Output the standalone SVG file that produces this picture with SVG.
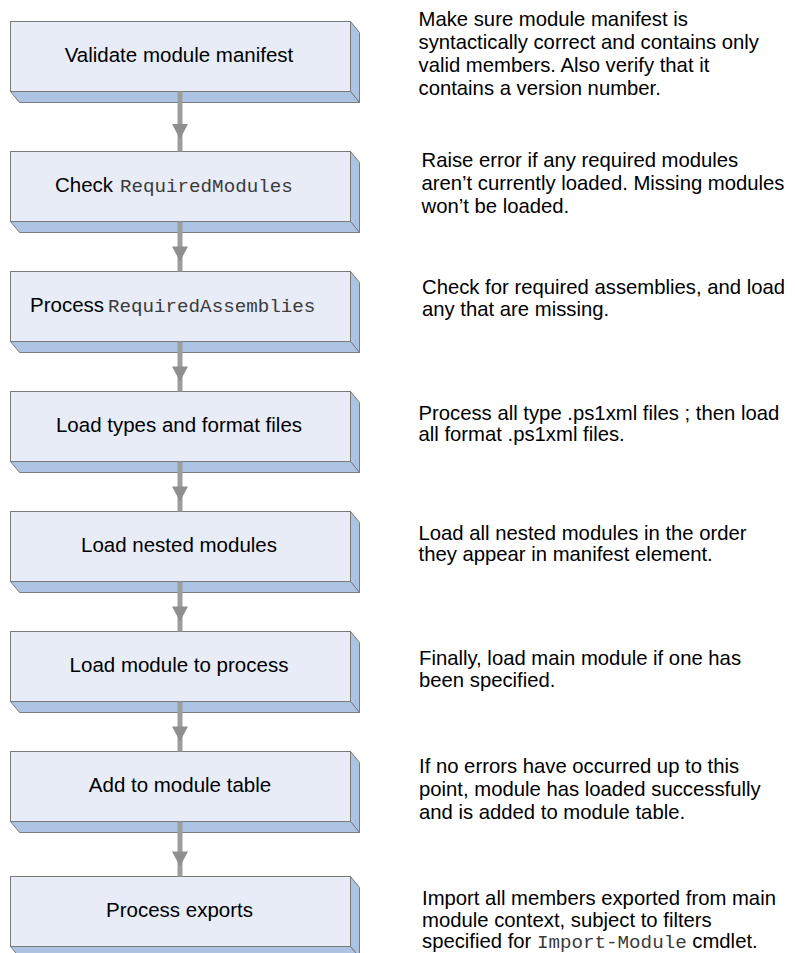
<svg xmlns="http://www.w3.org/2000/svg" width="795" height="953" viewBox="0 0 795 953">
<defs>
<style>
.front{fill:#e7ecf7;stroke:#7a7a7a;stroke-width:1}
.side{fill:#adc3e4;stroke:#7a7a7a;stroke-width:1;stroke-linejoin:round}
.lbl{font-family:"Liberation Sans",Arial,sans-serif;font-size:20.5px;fill:#000}
.desc{font-family:"Liberation Sans",Arial,sans-serif;font-size:20.3px;fill:#000}
.mono{font-family:"Liberation Mono","Courier New",monospace;font-size:19.2px;fill:#3a3a3a}
.line{stroke:#9d9d9d;stroke-width:5;fill:none}
.head{fill:#8f8f8f}
</style>
</defs>
<rect width="795" height="953" fill="#fff"/>

<g id="node1">
<polygon class="side" points="350.5,21.5 359.5,32.5 359.5,102.5 350.5,91.5"/>
<polygon class="side" points="10.5,91.5 350.5,91.5 359.5,102.5 19.5,102.5"/>
<rect class="front" x="10.5" y="21.5" width="340" height="70"/>
<text class="lbl" x="179" y="62" text-anchor="middle">Validate module manifest</text>
</g>
<g id="node2">
<polygon class="side" points="350.5,151.5 359.5,162.5 359.5,232.5 350.5,221.5"/>
<polygon class="side" points="10.5,221.5 350.5,221.5 359.5,232.5 19.5,232.5"/>
<rect class="front" x="10.5" y="151.5" width="340" height="70"/>
<text class="lbl" x="55" y="192">Check <tspan class="mono" x="120">RequiredModules</tspan></text>
</g>
<g id="node3">
<polygon class="side" points="350.5,271.5 359.5,282.5 359.5,352.5 350.5,341.5"/>
<polygon class="side" points="10.5,341.5 350.5,341.5 359.5,352.5 19.5,352.5"/>
<rect class="front" x="10.5" y="271.5" width="340" height="70"/>
<text class="lbl" x="30" y="312">Process <tspan class="mono" x="108">RequiredAssemblies</tspan></text>
</g>
<g id="node4">
<polygon class="side" points="350.5,391.5 359.5,402.5 359.5,472.5 350.5,461.5"/>
<polygon class="side" points="10.5,461.5 350.5,461.5 359.5,472.5 19.5,472.5"/>
<rect class="front" x="10.5" y="391.5" width="340" height="70"/>
<text class="lbl" x="179" y="432" text-anchor="middle">Load types and format files</text>
</g>
<g id="node5">
<polygon class="side" points="350.5,511.5 359.5,522.5 359.5,592.5 350.5,581.5"/>
<polygon class="side" points="10.5,581.5 350.5,581.5 359.5,592.5 19.5,592.5"/>
<rect class="front" x="10.5" y="511.5" width="340" height="70"/>
<text class="lbl" x="179" y="552" text-anchor="middle">Load nested modules</text>
</g>
<g id="node6">
<polygon class="side" points="350.5,631.5 359.5,642.5 359.5,712.5 350.5,701.5"/>
<polygon class="side" points="10.5,701.5 350.5,701.5 359.5,712.5 19.5,712.5"/>
<rect class="front" x="10.5" y="631.5" width="340" height="70"/>
<text class="lbl" x="179" y="672" text-anchor="middle">Load module to process</text>
</g>
<g id="node7">
<polygon class="side" points="350.5,751.5 359.5,762.5 359.5,832.5 350.5,821.5"/>
<polygon class="side" points="10.5,821.5 350.5,821.5 359.5,832.5 19.5,832.5"/>
<rect class="front" x="10.5" y="751.5" width="340" height="70"/>
<text class="lbl" x="180" y="792" text-anchor="middle">Add to module table</text>
</g>
<g id="node8">
<polygon class="side" points="350.5,876.5 359.5,887.5 359.5,957.5 350.5,946.5"/>
<polygon class="side" points="10.5,946.5 350.5,946.5 359.5,957.5 19.5,957.5"/>
<rect class="front" x="10.5" y="876.5" width="340" height="70"/>
<text class="lbl" x="179.5" y="917" text-anchor="middle">Process exports</text>
</g>

<g id="connectors">
<line class="line" x1="180" y1="91.5" x2="180" y2="151.5"/>
<polygon class="head" points="172,124 188,124 180,139"/>
<line class="line" x1="180" y1="221.5" x2="180" y2="271.5"/>
<polygon class="head" points="172,246.5 188,246.5 180,261.5"/>
<line class="line" x1="180" y1="341.5" x2="180" y2="391.5"/>
<polygon class="head" points="172,366.5 188,366.5 180,381.5"/>
<line class="line" x1="180" y1="461.5" x2="180" y2="511.5"/>
<polygon class="head" points="172,486.5 188,486.5 180,501.5"/>
<line class="line" x1="180" y1="581.5" x2="180" y2="631.5"/>
<polygon class="head" points="172,606.5 188,606.5 180,621.5"/>
<line class="line" x1="180" y1="701.5" x2="180" y2="751.5"/>
<polygon class="head" points="172,726.5 188,726.5 180,741.5"/>
<line class="line" x1="180" y1="821.5" x2="180" y2="876.5"/>
<polygon class="head" points="172,851.5 188,851.5 180,866.5"/>
</g>

<g id="desc1" class="desc">
<text x="418.5" y="26">Make sure module manifest is</text>
<text x="418.5" y="49">syntactically correct and contains only</text>
<text x="418.5" y="72">valid members. Also verify that it</text>
<text x="418.5" y="95">contains a version number.</text>
</g>
<g id="desc2" class="desc">
<text x="421.5" y="167">Raise error if any required modules</text>
<text x="421.5" y="190">aren’t currently loaded. Missing modules</text>
<text x="421.5" y="213">won’t be loaded.</text>
</g>
<g id="desc3" class="desc">
<text x="422" y="294">Check for required assemblies, and load</text>
<text x="422" y="316">any that are missing.</text>
</g>
<g id="desc4" class="desc">
<text x="418.5" y="419.5">Process all type .ps1xml files ; then load</text>
<text x="418.5" y="441">all format .ps1xml files.</text>
</g>
<g id="desc5" class="desc">
<text x="418.5" y="539.5">Load all nested modules in the order</text>
<text x="418.5" y="560.5">they appear in manifest element.</text>
</g>
<g id="desc6" class="desc">
<text x="419" y="664.5">Finally, load main module if one has</text>
<text x="419" y="687">been specified.</text>
</g>
<g id="desc7" class="desc">
<text x="419" y="773">If no errors have occurred up to this</text>
<text x="419" y="796">point, module has loaded successfully</text>
<text x="419" y="818.5">and is added to module table.</text>
</g>
<g id="desc8" class="desc">
<text x="422" y="905">Import all members exported from main</text>
<text x="422" y="926.5">module context, subject to filters</text>
<text x="422" y="948">specified for <tspan class="mono">Import-Module</tspan> cmdlet.</text>
</g>
</svg>
